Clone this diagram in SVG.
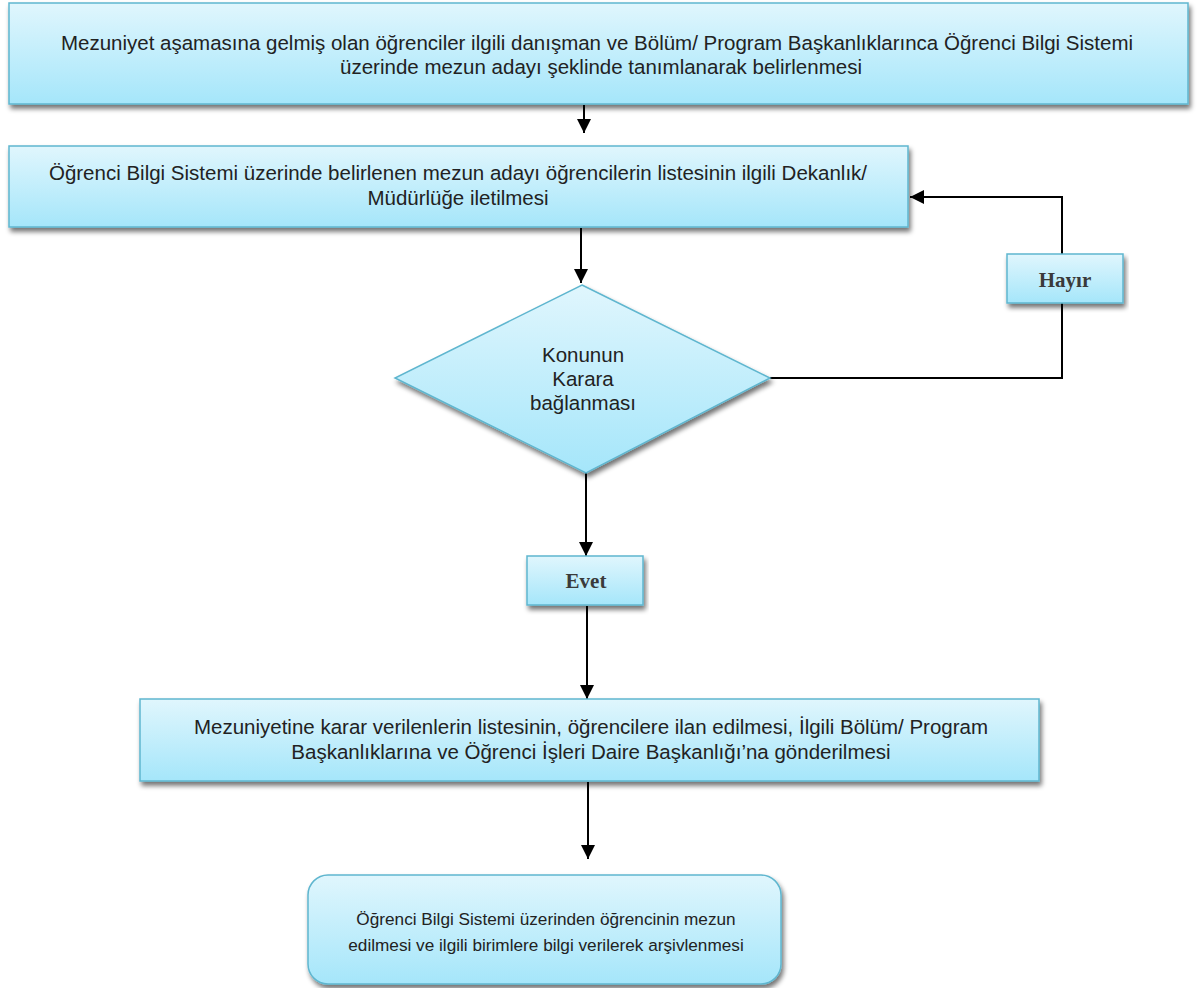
<svg xmlns="http://www.w3.org/2000/svg" width="1197" height="988" viewBox="0 0 1197 988">
<defs>
<linearGradient id="g" x1="0" y1="0" x2="0" y2="1">
<stop offset="0" stop-color="#e0f6fd"/>
<stop offset="1" stop-color="#a5e6fa"/>
</linearGradient>
<filter id="sh" x="-5%" y="-10%" width="110%" height="130%">
<feGaussianBlur in="SourceAlpha" stdDeviation="2.5"/>
<feOffset dx="2" dy="4" result="b"/>
<feComponentTransfer><feFuncA type="linear" slope="0.55"/></feComponentTransfer>
<feMerge><feMergeNode/><feMergeNode in="SourceGraphic"/></feMerge>
</filter>
<marker id="ah" viewBox="0 0 10 10" refX="10" refY="5" markerWidth="14" markerHeight="14" markerUnits="userSpaceOnUse" orient="auto">
<path d="M0,0 L10,5 L0,10 z" fill="#000"/>
</marker>
</defs>
<style>
.box{fill:url(#g);stroke:#5fb6cf;stroke-width:1.5;filter:url(#sh)}
.t{font-family:"Liberation Sans",Arial,sans-serif;font-size:20.5px;fill:#222;text-anchor:middle}
.t2{font-family:"Liberation Sans",Arial,sans-serif;font-size:17.2px;fill:#222;text-anchor:middle}
.s{font-family:"Liberation Serif","Times New Roman",serif;font-size:21px;fill:#3a3a3a;text-anchor:middle;font-weight:bold}
.c{fill:none;stroke:#000;stroke-width:2}
</style>
<rect width="1197" height="988" fill="#fff"/>
<g id="connectors">
<line class="c" x1="584" y1="105" x2="584" y2="133" marker-end="url(#ah)"/>
<line class="c" x1="581" y1="228" x2="581" y2="283" marker-end="url(#ah)"/>
<polyline class="c" points="770,378 1062,378 1062,303"/>
<polyline class="c" points="1062,254 1062,197 910,197" marker-end="url(#ah)"/>
<line class="c" x1="586" y1="473" x2="586" y2="556" marker-end="url(#ah)"/>
<line class="c" x1="587" y1="606" x2="587" y2="699" marker-end="url(#ah)"/>
<line class="c" x1="588" y1="782" x2="588" y2="859" marker-end="url(#ah)"/>
</g>
<g id="n1">
<rect class="box" x="9" y="3" width="1179" height="101"/>
<text class="t" x="597" y="50">Mezuniyet aşamasına gelmiş olan öğrenciler ilgili danışman ve Bölüm/ Program Başkanlıklarınca Öğrenci Bilgi Sistemi</text>
<text class="t" x="601" y="74">üzerinde mezun adayı şeklinde tanımlanarak belirlenmesi</text>
</g>
<g id="n2">
<rect class="box" x="9" y="146" width="899" height="81"/>
<text class="t" x="458" y="180">Öğrenci Bilgi Sistemi üzerinde belirlenen mezun adayı öğrencilerin listesinin ilgili Dekanlık/</text>
<text class="t" x="458" y="205">Müdürlüğe iletilmesi</text>
</g>
<g id="n3">
<polygon class="box" points="582,285 770,378 586,473 395,378"/>
<text class="t" x="583" y="362">Konunun</text>
<text class="t" x="583" y="386">Karara</text>
<text class="t" x="583" y="410">bağlanması</text>
</g>
<g id="n4">
<rect class="box" x="1007" y="254" width="116" height="49"/>
<text class="s" x="1065" y="287">Hayır</text>
</g>
<g id="n5">
<rect class="box" x="527" y="556" width="116" height="49"/>
<text class="s" x="586" y="588">Evet</text>
</g>
<g id="n6">
<rect class="box" x="140" y="699" width="899" height="82"/>
<text class="t" x="591" y="734">Mezuniyetine karar verilenlerin listesinin, öğrencilere ilan edilmesi, İlgili Bölüm/ Program</text>
<text class="t" x="591" y="759">Başkanlıklarına ve Öğrenci İşleri Daire Başkanlığı’na gönderilmesi</text>
</g>
<g id="n7">
<rect class="box" x="308" y="875" width="473" height="109" rx="20" ry="20"/>
<text class="t2" x="546" y="925">Öğrenci Bilgi Sistemi üzerinden öğrencinin mezun</text>
<text class="t2" x="546" y="951">edilmesi ve ilgili birimlere bilgi verilerek arşivlenmesi</text>
</g>
</svg>
